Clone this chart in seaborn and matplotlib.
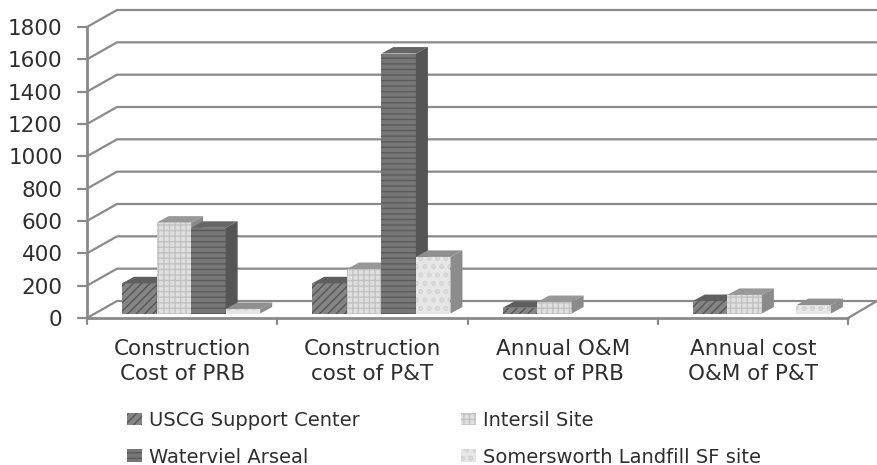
import pandas as pd
import matplotlib
matplotlib.use('Agg')
import matplotlib.pyplot as plt
import seaborn as sns
from matplotlib.patches import Patch, Polygon

categories = ['Construction\nCost of PRB', 'Construction\ncost of P&T',
              'Annual O&M\ncost of PRB', 'Annual cost\nO&M of P&T']
sites = ['USCG Support Center', 'Intersil Site', 'Waterviel Arseal', 'Somersworth Landfill SF site']
uscg = [187, 187, 35, 77]
intersil = [562, 275, 71, 115]
waterviel = [530, 1608, None, None]
somersworth = [28, 350, None, 52]
y_ticks = [0, 200, 400, 600, 800, 1000, 1200, 1400, 1600, 1800]

# face, hatch, top, side
styles = [('#858585', '#565656', '////', '#5f5f5f', '#4a4a4a'),
          ('#e0e0e0', '#c2c2c2', '+++', '#989898', '#8a8a8a'),
          ('#777777', '#5a5a5a', '---', '#666666', '#555555'),
          ('#e6e6e6', '#d4d4d4', 'oo', '#8f8f8f', '#8c8c8c')]

df = pd.DataFrame({'cat': categories, sites[0]: uscg, sites[1]: intersil,
                   sites[2]: waterviel, sites[3]: somersworth})
df = df.melt(id_vars='cat', var_name='site', value_name='cost')

sns.set_theme(style='white')
plt.rcParams['font.family'] = ['DejaVu Sans']
plt.rcParams['hatch.linewidth'] = 1.0

fig = plt.figure(figsize=(8.77, 4.65), dpi=100)
ax = fig.add_axes([87 / 877, (465 - 318) / 465, 761 / 877, 291 / 465])
sns.barplot(data=df, x='cat', y='cost', hue='site', hue_order=sites, order=categories,
            width=0.726, gap=0, legend=False, ax=ax)
ax.set_xlim(-0.5, 3.5)
ax.set_ylim(0, 1800)

# one pixel in data units
px = 4 / 761
py = 1800 / 291
grid = '#8a8a8a'
text_c = '#2e2e2e'

# back wall and floor
for t in y_ticks:
    ax.plot([-0.5, -0.5 + 30 * px, 3.5 + 29 * px], [t, t + 17 * py, t + 17 * py],
            color=grid, lw=1.6, clip_on=False, zorder=1)
ax.plot([3.5, 3.5 + 29 * px], [0, 17 * py], color=grid, lw=1.6, clip_on=False, zorder=1)
ax.plot([-0.5, 3.5], [0, 0], color=grid, lw=2, clip_on=False, zorder=2)

# fake 3d boxes
for i, cont in enumerate(ax.containers):
    face, hatch_c, hatch, top, side = styles[i]
    z = 3 + i * 0.1
    for bar in cont:
        h = bar.get_height()
        if not h == h or h == 0:
            continue
        bar.set_x(bar.get_x() + 9 * px)
        bar.set_y(4.5 * py)
        bar.set(facecolor=face, edgecolor=hatch_c, hatch=hatch, linewidth=0, zorder=z)
        x0, x1 = bar.get_x(), bar.get_x() + bar.get_width()
        y0, y1 = bar.get_y(), bar.get_y() + h
        dx, dy = 12 * px, 6.5 * py
        ax.add_patch(Polygon([(x0, y1), (x1, y1), (x1 + dx, y1 + dy), (x0 + dx, y1 + dy)],
                             facecolor=top, edgecolor='none', zorder=z, clip_on=False))
        ax.add_patch(Polygon([(x1, y0), (x1, y1), (x1 + dx, y1 + dy), (x1 + dx, y0 + dy)],
                             facecolor=side, edgecolor='none', zorder=z, clip_on=False))

sns.despine(ax=ax, top=True, right=True, bottom=True)
ax.spines['left'].set_color(grid)
ax.spines['left'].set_linewidth(2)
ax.set_xlabel('')
ax.set_ylabel('')
ax.set_yticks(y_ticks)
ax.set_xticks(range(4), categories)
ax.tick_params(axis='y', length=0, pad=17.5, labelsize=15.5, labelcolor=text_c)
ax.tick_params(axis='x', length=0, pad=15, labelsize=15.5, labelcolor=text_c)
for lab in ax.get_xticklabels():
    lab.set_linespacing(1.3)
for e in [-0.5, 0.5, 1.5, 2.5, 3.5]:
    ax.plot([e, e], [0, -6 * py], color=grid, lw=1.6, clip_on=False, zorder=2)
for t in y_ticks:
    ax.plot([-0.5 - 9 * px, -0.5], [t, t], color=grid, lw=1.6, clip_on=False, zorder=2)

handles = [Patch(facecolor=s[0], edgecolor=s[1], hatch=s[2], linewidth=0) for s in styles]
order = [0, 2, 1, 3]
ax.legend([handles[k] for k in order], [sites[k] for k in order], ncol=2, frameon=False,
          loc='upper left', bbox_to_anchor=(127 / 877, (465 - 411) / 465),
          bbox_transform=fig.transFigure, fontsize=14, labelcolor=text_c,
          handlelength=0.77, handleheight=0.6, handletextpad=0.36,
          columnspacing=5.2, labelspacing=0.9, borderaxespad=0, borderpad=0)

fig.savefig('out.png', dpi=100)
